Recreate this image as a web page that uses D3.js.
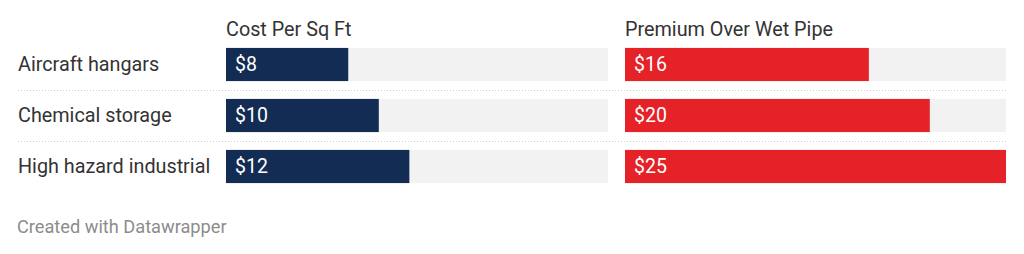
<!DOCTYPE html>
<html>
<head>
<meta charset="utf-8">
<script src="https://cdn.jsdelivr.net/npm/d3@7"></script>
<style>
  html, body { margin: 0; padding: 0; background: #fff; }
  svg { display: block; font-family: Roboto, sans-serif; }
</style>
</head>
<body>
<div id="chart"></div>
<script>
// data
const categories = ['Aircraft hangars', 'Chemical storage', 'High hazard industrial'];
const costPerSqFt = [8, 10, 12];
const premiumOverWetPipe = [16, 20, 25];
const columnTitles = ['Cost Per Sq Ft', 'Premium Over Wet Pipe'];
const maxValue = 25;

const width = 1024, height = 254;

const columns = [
  {title: columnTitles[0], values: costPerSqFt, color: '#132c53', x0: 226, x1: 608},
  {title: columnTitles[1], values: premiumOverWetPipe, color: '#e42227', x0: 625, x1: 1006}
];

const svg = d3.select('#chart').append('svg')
  .attr('width', width)
  .attr('height', height);

const y = d3.scaleBand()
  .domain(categories)
  .range([39, 192])
  .paddingInner(0.35)
  .paddingOuter(0.175);

// row separators (dotted)
categories.slice(1).forEach(c => {
  const yy = Math.round(y(c) - y.step() * y.paddingInner() / 2) + 0.5;
  svg.append('line')
    .attr('x1', 18).attr('x2', 1006)
    .attr('y1', yy).attr('y2', yy)
    .attr('stroke', '#cfcfcf')
    .attr('stroke-width', 1)
    .attr('stroke-dasharray', '1,2');
});

// row labels
svg.append('g')
  .selectAll('text')
  .data(categories)
  .enter().append('text')
  .attr('x', 18)
  .attr('y', d => y(d) + y.bandwidth() / 2)
  .attr('dy', '0.35em')
  .attr('fill', '#333')
  .style('font-size', '19.8px')
  .text(d => d);

columns.forEach(col => {
  const x = d3.scaleLinear()
    .domain([0, maxValue])
    .range([col.x0, col.x1]);

  svg.append('text')
    .attr('x', col.x0)
    .attr('y', 35.5)
    .attr('fill', '#333')
    .style('font-size', '19.8px')
    .text(col.title);

  const g = svg.append('g');

  // background tracks
  g.selectAll('rect.bg')
    .data(categories)
    .enter().append('rect')
    .attr('class', 'bg')
    .attr('x', x(0))
    .attr('y', d => y(d))
    .attr('width', x(maxValue) - x(0))
    .attr('height', y.bandwidth())
    .attr('fill', '#f2f2f2');

  g.selectAll('rect.bar')
    .data(col.values)
    .enter().append('rect')
    .attr('class', 'bar')
    .attr('x', x(0))
    .attr('y', (d, i) => y(categories[i]))
    .attr('width', d => x(d) - x(0))
    .attr('height', y.bandwidth())
    .attr('fill', col.color);

  g.selectAll('text.val')
    .data(col.values)
    .enter().append('text')
    .attr('class', 'val')
    .attr('x', x(0) + 9)
    .attr('y', (d, i) => y(categories[i]) + y.bandwidth() / 2)
    .attr('dy', '0.35em')
    .attr('fill', '#fff')
    .style('font-size', '19.5px')
    .text(d => '$' + d);
});

// footer
svg.append('text')
  .attr('x', 17)
  .attr('y', 233)
  .attr('fill', '#8c8c8c')
  .style('font-size', '18.2px')
  .text('Created with Datawrapper');
</script>
</body>
</html>
